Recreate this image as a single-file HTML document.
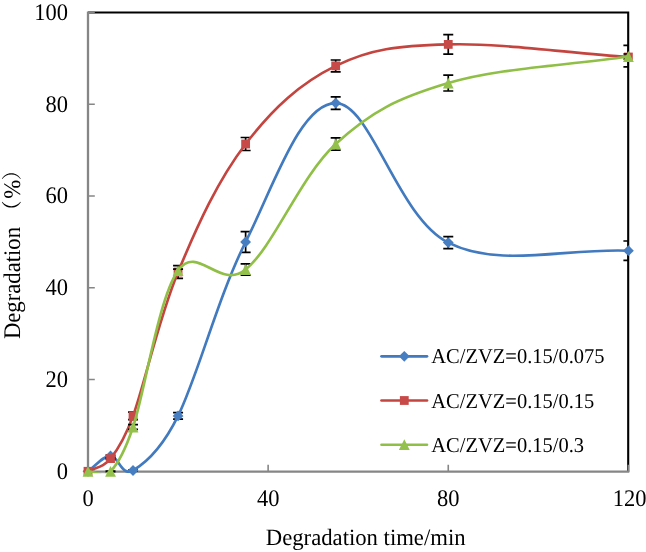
<!DOCTYPE html>
<html><head><meta charset="utf-8"><title>Degradation chart</title>
<style>html,body{margin:0;padding:0;background:#fff}body{width:646px;height:552px;overflow:hidden}</style>
</head><body>
<svg width="646" height="552" viewBox="0 0 646 552" style="display:block;will-change:transform">
<defs><clipPath id="plot"><rect x="88" y="12" width="540.3" height="461.3"/></clipPath><clipPath id="plotl"><rect x="80" y="12" width="548.8" height="461.3"/></clipPath></defs>
<rect width="646" height="552" fill="#fff"/>
<path d="M88,12.5 H628.2 V471.7" fill="none" stroke="#000" stroke-width="2.1"/>
<path d="M88,11.4 V472.8 M86.9,471.7 H629.3" fill="none" stroke="#868686" stroke-width="2.3"/>
<path d=" M88,471.30 h6.8 M88,379.52 h6.8 M88,287.74 h6.8 M88,195.96 h6.8 M88,104.18 h6.8 M88,12.40 h6.8 M88.00,471.7 v-7.0 M268.13,471.7 v-7.0 M448.26,471.7 v-7.0 M628.40,471.7 v-7.0" fill="none" stroke="#868686" stroke-width="1.6"/>
<g stroke="#000" stroke-width="1.7" fill="none" clip-path="url(#plot)"><path d="M110.52,455.20 V456.60 M105.52,455.20 H115.52 M105.52,456.60 H115.52"/><path d="M133.03,470.10 V470.90 M128.03,470.10 H138.03 M128.03,470.90 H138.03"/><path d="M178.07,412.60 V419.20 M173.07,412.60 H183.07 M173.07,419.20 H183.07"/><path d="M245.62,231.60 V252.40 M240.62,231.60 H250.62 M240.62,252.40 H250.62"/><path d="M335.68,96.90 V109.30 M330.68,96.90 H340.68 M330.68,109.30 H340.68"/><path d="M448.26,236.60 V248.60 M443.26,236.60 H453.26 M443.26,248.60 H453.26"/><path d="M628.40,241.00 V260.40 M623.40,241.00 H633.40 M623.40,260.40 H633.40"/></g><path d="M88.00,471.30 C95.88,465.91 102.64,456.04 110.52,455.90 C118.40,455.76 121.49,477.34 133.03,470.50 C144.85,463.50 162.43,447.64 178.07,415.90 C197.77,375.91 218.03,296.74 245.62,242.00 C273.20,187.26 300.22,102.99 335.68,103.10 C371.14,103.20 397.04,216.77 448.26,242.60 C499.49,268.43 565.35,247.87 628.40,250.70" fill="none" stroke="#427ABF" stroke-width="2.65" stroke-linecap="round" stroke-linejoin="round" clip-path="url(#plotl)"/><path d="M88.00,465.90 L93.40,471.30 L88.00,476.70 L82.60,471.30 Z" fill="#467EC1"/><path d="M110.52,450.50 L115.92,455.90 L110.52,461.30 L105.12,455.90 Z" fill="#467EC1"/><path d="M133.03,465.10 L138.43,470.50 L133.03,475.90 L127.63,470.50 Z" fill="#467EC1"/><path d="M178.07,410.50 L183.47,415.90 L178.07,421.30 L172.67,415.90 Z" fill="#467EC1"/><path d="M245.62,236.60 L251.02,242.00 L245.62,247.40 L240.22,242.00 Z" fill="#467EC1"/><path d="M335.68,97.70 L341.08,103.10 L335.68,108.50 L330.28,103.10 Z" fill="#467EC1"/><path d="M448.26,237.20 L453.66,242.60 L448.26,248.00 L442.86,242.60 Z" fill="#467EC1"/><path d="M628.40,245.30 L633.80,250.70 L628.40,256.10 L623.00,250.70 Z" fill="#467EC1"/>
<g stroke="#000" stroke-width="1.7" fill="none" clip-path="url(#plot)"><path d="M110.52,457.90 V459.30 M105.52,457.90 H115.52 M105.52,459.30 H115.52"/><path d="M133.03,412.20 V419.60 M128.03,412.20 H138.03 M128.03,419.60 H138.03"/><path d="M178.07,265.60 V278.40 M173.07,265.60 H183.07 M173.07,278.40 H183.07"/><path d="M245.62,137.50 V150.50 M240.62,137.50 H250.62 M240.62,150.50 H250.62"/><path d="M335.68,60.00 V71.80 M330.68,60.00 H340.68 M330.68,71.80 H340.68"/><path d="M448.26,34.65 V54.15 M443.26,34.65 H453.26 M443.26,54.15 H453.26"/><path d="M628.40,45.40 V66.90 M623.40,45.40 H633.40 M623.40,66.90 H633.40"/></g><path d="M88.00,471.30 C95.88,466.86 102.64,468.30 110.52,458.60 C118.40,448.91 124.82,438.60 133.03,415.90 C144.85,383.25 158.36,319.58 178.07,272.00 C197.77,224.42 218.03,180.07 245.62,144.00 C273.20,107.93 300.22,83.33 335.68,65.90 C371.14,48.47 397.04,45.96 448.26,44.40 C499.49,42.84 565.35,52.59 628.40,57.00" fill="none" stroke="#C4453F" stroke-width="2.65" stroke-linecap="round" stroke-linejoin="round" clip-path="url(#plotl)"/><rect x="83.60" y="466.90" width="8.80" height="8.80" fill="#C74A48"/><rect x="106.12" y="454.20" width="8.80" height="8.80" fill="#C74A48"/><rect x="128.63" y="411.50" width="8.80" height="8.80" fill="#C74A48"/><rect x="173.67" y="267.60" width="8.80" height="8.80" fill="#C74A48"/><rect x="241.22" y="139.60" width="8.80" height="8.80" fill="#C74A48"/><rect x="331.28" y="61.50" width="8.80" height="8.80" fill="#C74A48"/><rect x="443.86" y="40.00" width="8.80" height="8.80" fill="#C74A48"/><rect x="624.00" y="52.60" width="8.80" height="8.80" fill="#C74A48"/>
<g stroke="#000" stroke-width="1.7" fill="none" clip-path="url(#plot)"><path d="M110.52,471.00 V471.60 M105.52,471.00 H115.52 M105.52,471.60 H115.52"/><path d="M133.03,424.60 V429.40 M128.03,424.60 H138.03 M128.03,429.40 H138.03"/><path d="M178.07,269.20 V270.60 M173.07,269.20 H183.07"/><path d="M245.62,263.80 V275.20 M240.62,263.80 H250.62 M240.62,275.20 H250.62"/><path d="M335.68,137.80 V150.20 M330.68,137.80 H340.68 M330.68,150.20 H340.68"/><path d="M448.26,75.20 V91.00 M443.26,75.20 H453.26 M443.26,91.00 H453.26"/><path d="M628.40,54.00 V59.00 M623.40,54.00 H633.40 M623.40,59.00 H633.40"/></g><path d="M88.00,471.30 C95.88,471.30 102.64,479.05 110.52,471.30 C118.40,463.55 125.11,450.55 133.03,427.00 C144.85,391.88 158.36,298.16 178.07,270.60 C197.71,243.12 219.28,290.65 245.62,269.50 C273.20,247.34 300.22,176.62 335.68,144.00 C371.14,111.38 397.04,98.41 448.26,83.10 C499.49,67.79 565.35,65.81 628.40,56.50" fill="none" stroke="#90BF47" stroke-width="2.65" stroke-linecap="round" stroke-linejoin="round" clip-path="url(#plotl)"/><path d="M88.00,465.90 L93.40,476.70 L82.60,476.70 Z" fill="#93C14B"/><path d="M110.52,465.90 L115.92,476.70 L105.12,476.70 Z" fill="#93C14B"/><path d="M133.03,421.60 L138.43,432.40 L127.63,432.40 Z" fill="#93C14B"/><path d="M178.07,265.20 L183.47,276.00 L172.67,276.00 Z" fill="#93C14B"/><path d="M245.62,264.10 L251.02,274.90 L240.22,274.90 Z" fill="#93C14B"/><path d="M335.68,138.60 L341.08,149.40 L330.28,149.40 Z" fill="#93C14B"/><path d="M448.26,77.70 L453.66,88.50 L442.86,88.50 Z" fill="#93C14B"/><path d="M628.40,51.10 L633.80,61.90 L623.00,61.90 Z" fill="#93C14B"/>
<text font-family="Liberation Serif, Noto Serif CJK SC, serif" text-rendering="geometricPrecision" font-size="22.5" text-anchor="end" transform="translate(67.90,478.80)  scale(1,1.06)">0</text>
<text font-family="Liberation Serif, Noto Serif CJK SC, serif" text-rendering="geometricPrecision" font-size="22.5" text-anchor="end" transform="translate(67.90,387.02)  scale(1,1.06)">20</text>
<text font-family="Liberation Serif, Noto Serif CJK SC, serif" text-rendering="geometricPrecision" font-size="22.5" text-anchor="end" transform="translate(67.90,295.24)  scale(1,1.06)">40</text>
<text font-family="Liberation Serif, Noto Serif CJK SC, serif" text-rendering="geometricPrecision" font-size="22.5" text-anchor="end" transform="translate(67.90,203.46)  scale(1,1.06)">60</text>
<text font-family="Liberation Serif, Noto Serif CJK SC, serif" text-rendering="geometricPrecision" font-size="22.5" text-anchor="end" transform="translate(67.90,111.68)  scale(1,1.06)">80</text>
<text font-family="Liberation Serif, Noto Serif CJK SC, serif" text-rendering="geometricPrecision" font-size="22.5" text-anchor="end" transform="translate(67.90,19.90)  scale(1,1.06)">100</text>
<text font-family="Liberation Serif, Noto Serif CJK SC, serif" text-rendering="geometricPrecision" font-size="22.5" text-anchor="middle" transform="translate(88.00,506.20)  scale(1,1.06)">0</text>
<text font-family="Liberation Serif, Noto Serif CJK SC, serif" text-rendering="geometricPrecision" font-size="22.5" text-anchor="middle" transform="translate(268.13,506.20)  scale(1,1.06)">40</text>
<text font-family="Liberation Serif, Noto Serif CJK SC, serif" text-rendering="geometricPrecision" font-size="22.5" text-anchor="middle" transform="translate(448.26,506.20)  scale(1,1.06)">80</text>
<text font-family="Liberation Serif, Noto Serif CJK SC, serif" text-rendering="geometricPrecision" font-size="22.5" text-anchor="middle" transform="translate(629.70,506.20)  scale(1,1.06)">120</text>
<text font-family="Liberation Serif, Noto Serif CJK SC, serif" text-rendering="geometricPrecision" font-size="22.7" text-anchor="start" transform="translate(265.80,544.70)  scale(1,1.03)">Degradation time/min</text>
<text font-family="Liberation Serif, Noto Serif CJK SC, serif" text-rendering="geometricPrecision" font-size="22.7" text-anchor="start" transform="translate(20.00,339.10) rotate(-90) scale(1,1.05)">Degradation</text>
<text font-family="Liberation Serif, Noto Serif CJK SC, serif" text-rendering="geometricPrecision" font-size="20.2" text-anchor="start" transform="translate(19.40,220.80) rotate(-90) scale(1,1.0)">（</text>
<text font-family="Liberation Serif, Noto Serif CJK SC, serif" text-rendering="geometricPrecision" font-size="22.7" text-anchor="start" transform="translate(20.00,198.80) rotate(-90) scale(1,1.05)">%</text>
<text font-family="Liberation Serif, Noto Serif CJK SC, serif" text-rendering="geometricPrecision" font-size="20.2" text-anchor="start" transform="translate(19.40,180.30) rotate(-90) scale(1,1.0)">）</text>
<path d="M381.5,356.30 H427" stroke="#427ABF" stroke-width="2.65" stroke-linecap="round"/>
<path d="M404.30,350.90 L409.70,356.30 L404.30,361.70 L398.90,356.30 Z" fill="#467EC1"/>
<text font-family="Liberation Serif, Noto Serif CJK SC, serif" text-rendering="geometricPrecision" font-size="20.5" text-anchor="start" transform="translate(431.30,363.40)  scale(1,1.03)">AC/ZVZ=0.15/0.075</text>
<path d="M381.5,400.50 H427" stroke="#C4453F" stroke-width="2.65" stroke-linecap="round"/>
<rect x="399.90" y="396.10" width="8.80" height="8.80" fill="#C74A48"/>
<text font-family="Liberation Serif, Noto Serif CJK SC, serif" text-rendering="geometricPrecision" font-size="20.5" text-anchor="start" transform="translate(431.30,407.60)  scale(1,1.03)">AC/ZVZ=0.15/0.15</text>
<path d="M381.5,444.70 H427" stroke="#90BF47" stroke-width="2.65" stroke-linecap="round"/>
<path d="M404.30,439.30 L409.70,450.10 L398.90,450.10 Z" fill="#93C14B"/>
<text font-family="Liberation Serif, Noto Serif CJK SC, serif" text-rendering="geometricPrecision" font-size="20.5" text-anchor="start" transform="translate(431.30,451.80)  scale(1,1.03)">AC/ZVZ=0.15/0.3</text>
</svg>
</body></html>
